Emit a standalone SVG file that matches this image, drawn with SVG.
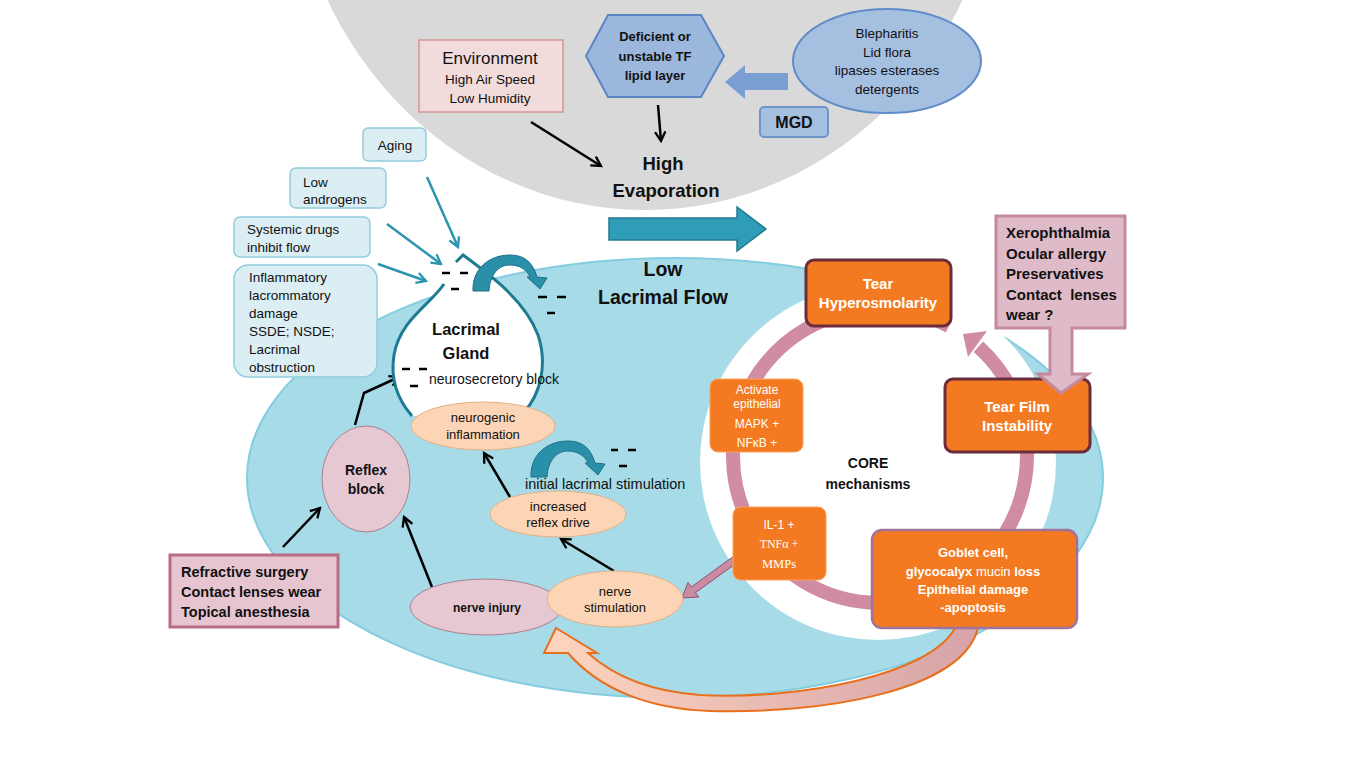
<svg xmlns="http://www.w3.org/2000/svg" width="1360" height="772" viewBox="0 0 1360 772">
<defs>
<style>
text{font-family:"Liberation Sans",Arial,sans-serif;fill:#111}
.b{font-weight:bold}
.c{text-anchor:middle}
.w{fill:#fff}
.lb{fill:#dbeef3;stroke:#93cddd;stroke-width:1.5}
.peach{fill:#fbd5b5;stroke:#e2b186;stroke-width:1}
.pk{fill:#e5c8d2;stroke:#a97f90;stroke-width:1}
.or{fill:#f47a21}
.blk{stroke:#000;stroke-width:2.5;fill:none;marker-end:url(#ab)}
.tl{stroke:#2b95b0;stroke-width:2.5;fill:none;marker-end:url(#at)}
.dash{stroke:#000;stroke-width:2.5}
.rib{fill:#2a90aa;stroke:#1f6f84;stroke-width:1}
</style>
<marker id="ab" viewBox="0 0 12 12" refX="10" refY="6" markerWidth="5" markerHeight="5" markerUnits="strokeWidth" orient="auto">
<path d="M1,1 L10,6 L1,11" fill="none" stroke="#000" stroke-width="2.2"/>
</marker>
<marker id="at" viewBox="0 0 12 12" refX="10" refY="6" markerWidth="5" markerHeight="5" markerUnits="strokeWidth" orient="auto">
<path d="M1,1 L10,6 L1,11" fill="none" stroke="#2b95b0" stroke-width="2.2"/>
</marker>
<linearGradient id="og" x1="0" y1="0" x2="1" y2="0">
<stop offset="0" stop-color="#fdd5c0"/>
<stop offset="1" stop-color="#d6a3a7"/>
</linearGradient>
</defs>
<rect width="1360" height="772" fill="#fff"/>

<!-- regions -->
<ellipse id="evap-zone" cx="645" cy="-170" rx="355" ry="380" fill="#d9d9d9"/>
<ellipse id="lacrimal-zone" cx="675" cy="478" rx="428" ry="220" fill="#a6dbe7" stroke="#84cde0" stroke-width="2"/>
<circle id="core-zone" cx="878" cy="462" r="178" fill="#fff"/>

<g id="connectors">
<!-- core ring -->
<path d="M978.4 346.8 A147 147 0 1 1 949 326.2" fill="none" stroke="#d08ca2" stroke-width="14"/>
<polygon points="987,331 968,357 963,334" fill="#d08ca2"/>
<!-- black arrows -->
<line class="blk" x1="531" y1="122" x2="601" y2="166"/>
<line class="blk" x1="658" y1="105" x2="661" y2="141"/>
<polyline class="blk" points="355,425 364,393 399,377"/>
<line class="blk" x1="283" y1="547" x2="320" y2="508"/>
<line class="blk" x1="432" y1="587" x2="404" y2="517"/>
<line class="blk" x1="614" y1="571" x2="561" y2="539"/>
<line class="blk" x1="510" y1="497" x2="484" y2="453"/>
<!-- teal thin arrows -->
<line class="tl" x1="427" y1="177" x2="458" y2="247"/>
<line class="tl" x1="387" y1="224" x2="441" y2="264"/>
<line class="tl" x1="378" y1="264" x2="426" y2="281"/>
<!-- big teal block arrow -->
<polygon points="609,218 737,218 737,207 766,229 737,251 737,240 609,240" fill="#2f9db7" stroke="#23798e" stroke-width="1.5"/>
<!-- blue block arrow -->
<polygon points="788,73 745,73 745,65 725,82 745,99 745,90 788,90" fill="#7b9fd2"/>
<!-- pink arrow -->
<polygon points="734,556 691.4,586.9 688,582.5 682,598 698.8,597 695.4,592.7 738,562" fill="#c98aa2" stroke="#8a5470" stroke-width="1"/>
<!-- orange curved arrow -->
<path d="M556 628 L597 653 L588 653 C620 682 660 692 700 695 C800 700 930 675 955 628 L978 628 C962 692 820 714 710 711 C650 709 600 690 568 653 L544 653 Z" fill="url(#og)" stroke="#e8701c" stroke-width="2"/>
</g>

<g id="environment">
<rect x="419" y="40" width="144" height="72" fill="#f2dcdb" stroke="#d39593" stroke-width="1.5"/>
<text class="c" x="490" y="64" font-size="17">Environment</text>
<text class="c" x="490" y="84" font-size="13.5">High Air Speed</text>
<text class="c" x="490" y="103" font-size="13.5">Low Humidity</text>
</g>

<g id="lipid-layer">
<polygon points="586,56 608,15 701,15 724,56 701,97 608,97" fill="#9bb7dc" stroke="#5a86c2" stroke-width="2"/>
<text class="c b" x="655" y="41" font-size="13">Deficient or</text>
<text class="c b" x="655" y="61" font-size="13">unstable TF</text>
<text class="c b" x="655" y="80" font-size="13">lipid layer</text>
</g>

<g id="blepharitis">
<ellipse cx="887" cy="61" rx="94" ry="52" fill="#a5bfe1" stroke="#5f8cc8" stroke-width="2"/>
<text class="c" x="887" y="38" font-size="13.5">Blepharitis</text>
<text class="c" x="887" y="57" font-size="13.5">Lid flora</text>
<text class="c" x="887" y="75" font-size="13.5">lipases esterases</text>
<text class="c" x="887" y="94" font-size="13.5">detergents</text>
</g>

<g id="mgd">
<rect x="760" y="107" width="68" height="30" rx="4" fill="#a5bfe1" stroke="#6f94ca" stroke-width="2"/>
<text class="c b" x="794" y="128" font-size="16">MGD</text>
</g>

<g id="high-evaporation">
<text class="c b" x="663" y="170" font-size="18.5">High</text>
<text class="c b" x="666" y="197" font-size="18.5">Evaporation</text>
</g>

<g id="aging">
<rect class="lb" x="363" y="128" width="63" height="33" rx="5"/>
<text class="c" x="395" y="150" font-size="13.5">Aging</text>
</g>
<g id="low-androgens">
<rect class="lb" x="290" y="168" width="96" height="40" rx="6"/>
<text x="303" y="187" font-size="13.5">Low</text>
<text x="303" y="204" font-size="13.5">androgens</text>
</g>
<g id="systemic-drugs">
<rect class="lb" x="234" y="217" width="136" height="40" rx="6"/>
<text x="247" y="234" font-size="13.5">Systemic drugs</text>
<text x="247" y="252" font-size="13.5">inhibit flow</text>
</g>
<g id="inflammatory">
<rect class="lb" x="234" y="265" width="143" height="112" rx="14"/>
<text x="249" y="282" font-size="13.5">Inflammatory</text>
<text x="249" y="300" font-size="13.5">lacrommatory</text>
<text x="249" y="318" font-size="13.5">damage</text>
<text x="249" y="336" font-size="13.5">SSDE; NSDE;</text>
<text x="249" y="354" font-size="13.5">Lacrimal</text>
<text x="249" y="372" font-size="13.5">obstruction</text>
</g>

<g id="low-lacrimal-flow">
<text class="c b" x="663" y="276" font-size="19.5">Low</text>
<text class="c b" x="663" y="304" font-size="19.5">Lacrimal Flow</text>
</g>

<g id="lacrimal-gland">
<path d="M444 284 C430 305 400 320 394 355 C390 380 398 400 412 416 L524 412 C540 395 548 365 538 335 C525 300 490 275 462 255 Z" fill="#fff"/>
<path d="M444 284 C430 305 400 320 394 355 C390 380 398 400 412 416" fill="none" stroke="#1d7b92" stroke-width="3"/>
<path d="M456 262 L463 255 C490 275 525 300 538 335 C548 365 540 395 524 412" fill="none" stroke="#1d7b92" stroke-width="3"/>
<path class="rib" d="M473 291 C472 268 490 255 510 255 C525 255 533 263 537 277 L547 278 L540 289 L527 277 L530 277 C527 270 520 265 510 265 C498 265 490 275 489 291 Z"/>
<line class="dash" x1="442" y1="273" x2="450" y2="273"/>
<line class="dash" x1="460" y1="273" x2="468" y2="273"/>
<line class="dash" x1="451" y1="289" x2="459" y2="289"/>
<line class="dash" x1="538" y1="297" x2="547" y2="297"/>
<line class="dash" x1="557" y1="297" x2="566" y2="297"/>
<line class="dash" x1="547" y1="313" x2="555" y2="313"/>
<text class="c b" x="466" y="335" font-size="16.5">Lacrimal</text>
<text class="c b" x="466" y="359" font-size="16.5">Gland</text>
<line class="dash" x1="402" y1="369" x2="410" y2="369"/>
<line class="dash" x1="419" y1="369" x2="427" y2="369"/>
<line class="dash" x1="410" y1="386" x2="418" y2="386"/>
<text x="429" y="384" font-size="14">neurosecretory block</text>
</g>

<g id="neurogenic-inflammation">
<ellipse class="peach" cx="483" cy="426" rx="72" ry="24"/>
<text class="c" x="483" y="422" font-size="13">neurogenic</text>
<text class="c" x="483" y="439" font-size="13">inflammation</text>
</g>

<g id="initial-stimulation">
<path class="rib" transform="translate(58,186)" d="M473 291 C472 268 490 255 510 255 C525 255 533 263 537 277 L547 278 L540 289 L527 277 L530 277 C527 270 520 265 510 265 C498 265 490 275 489 291 Z"/>
<line class="dash" x1="611" y1="450" x2="618" y2="450"/>
<line class="dash" x1="628" y1="450" x2="636" y2="450"/>
<line class="dash" x1="619" y1="466" x2="627" y2="466"/>
<text x="525" y="489" font-size="14.5">initial lacrimal stimulation</text>
</g>

<g id="reflex-block">
<ellipse class="pk" cx="366" cy="479" rx="44" ry="53"/>
<text class="c b" x="366" y="475" font-size="14">Reflex</text>
<text class="c b" x="366" y="494" font-size="14">block</text>
</g>

<g id="increased-reflex-drive">
<ellipse class="peach" cx="558" cy="514" rx="68" ry="23"/>
<text class="c" x="558" y="511" font-size="13">increased</text>
<text class="c" x="558" y="527" font-size="13">reflex drive</text>
</g>

<g id="nerve-injury">
<ellipse class="pk" cx="486" cy="607" rx="76" ry="28"/>
<text class="c b" x="487" y="612" font-size="12">nerve injury</text>
</g>

<g id="nerve-stimulation">
<ellipse class="peach" cx="615" cy="599" rx="68" ry="28"/>
<text class="c" x="615" y="596" font-size="13">nerve</text>
<text class="c" x="615" y="612" font-size="13">stimulation</text>
</g>

<g id="refractive-surgery">
<rect x="170" y="555" width="168" height="72" fill="#e6c5d0" stroke="#b86c86" stroke-width="3"/>
<text class="b" x="181" y="577" font-size="14.5">Refractive surgery</text>
<text class="b" x="181" y="597" font-size="14.5">Contact lenses wear</text>
<text class="b" x="181" y="617" font-size="14.5">Topical anesthesia</text>
</g>

<g id="tear-hyperosmolarity">
<rect class="or" x="806" y="260" width="145" height="66" rx="8" stroke="#6b2c3c" stroke-width="3"/>
<text class="c b w" x="878" y="289" font-size="15">Tear</text>
<text class="c b w" x="878" y="308" font-size="15">Hyperosmolarity</text>
</g>

<g id="activate-epithelial">
<rect class="or" x="710" y="379" width="93" height="73" rx="8" stroke="#f9a35e" stroke-width="1"/>
<text class="c w" x="757" y="394" font-size="12">Activate</text>
<text class="c w" x="757" y="408" font-size="12">epithelial</text>
<text class="c w" x="757" y="428" font-size="12">MAPK +</text>
<text class="c w" x="757" y="447" font-size="12">NFκB +</text>
</g>

<g id="tear-film-instability">
<rect class="or" x="945" y="379" width="145" height="73" rx="8" stroke="#6b2c3c" stroke-width="3"/>
<text class="c b w" x="1017" y="412" font-size="15">Tear Film</text>
<text class="c b w" x="1017" y="431" font-size="15">Instability</text>
</g>

<g id="xerophthalmia">
<path d="M996 216 H1125 V328 H1072 V374 H1088 L1061 393 L1038 374 H1050 V328 H996 Z" fill="#dfbbc9" stroke="#c58aa0" stroke-width="3"/>
<text class="b" x="1006" y="238" font-size="15">Xerophthalmia</text>
<text class="b" x="1006" y="259" font-size="15">Ocular allergy</text>
<text class="b" x="1006" y="279" font-size="15">Preservatives</text>
<text class="b" x="1006" y="300" font-size="15" xml:space="preserve">Contact  lenses</text>
<text class="b" x="1006" y="320" font-size="15">wear ?</text>
</g>

<g id="core-mechanisms">
<text class="c b" x="868" y="468" font-size="14">CORE</text>
<text class="c b" x="868" y="489" font-size="14">mechanisms</text>
</g>

<g id="il1">
<rect class="or" x="733" y="507" width="93" height="73" rx="8" stroke="#f9a35e" stroke-width="1"/>
<text class="c w" x="779" y="529" font-size="12">IL-1 +</text>
<text class="c w" x="779" y="548" font-size="12" style="font-family:'Liberation Serif',serif">TNFα +</text>
<text class="c w" x="779" y="568" font-size="12.5" style="font-family:'Liberation Serif',serif">MMPs</text>
</g>

<g id="goblet-cell">
<rect class="or" x="872" y="530" width="205" height="98" rx="10" stroke="#a0739a" stroke-width="2.5"/>
<text class="c b w" x="973" y="557" font-size="13">Goblet cell,</text>
<text class="c b w" x="973" y="576" font-size="13">glycocalyx <tspan font-weight="normal">mucin</tspan> loss</text>
<text class="c b w" x="973" y="594" font-size="13">Epithelial damage</text>
<text class="c b w" x="973" y="612" font-size="13">-apoptosis</text>
</g>
</svg>
